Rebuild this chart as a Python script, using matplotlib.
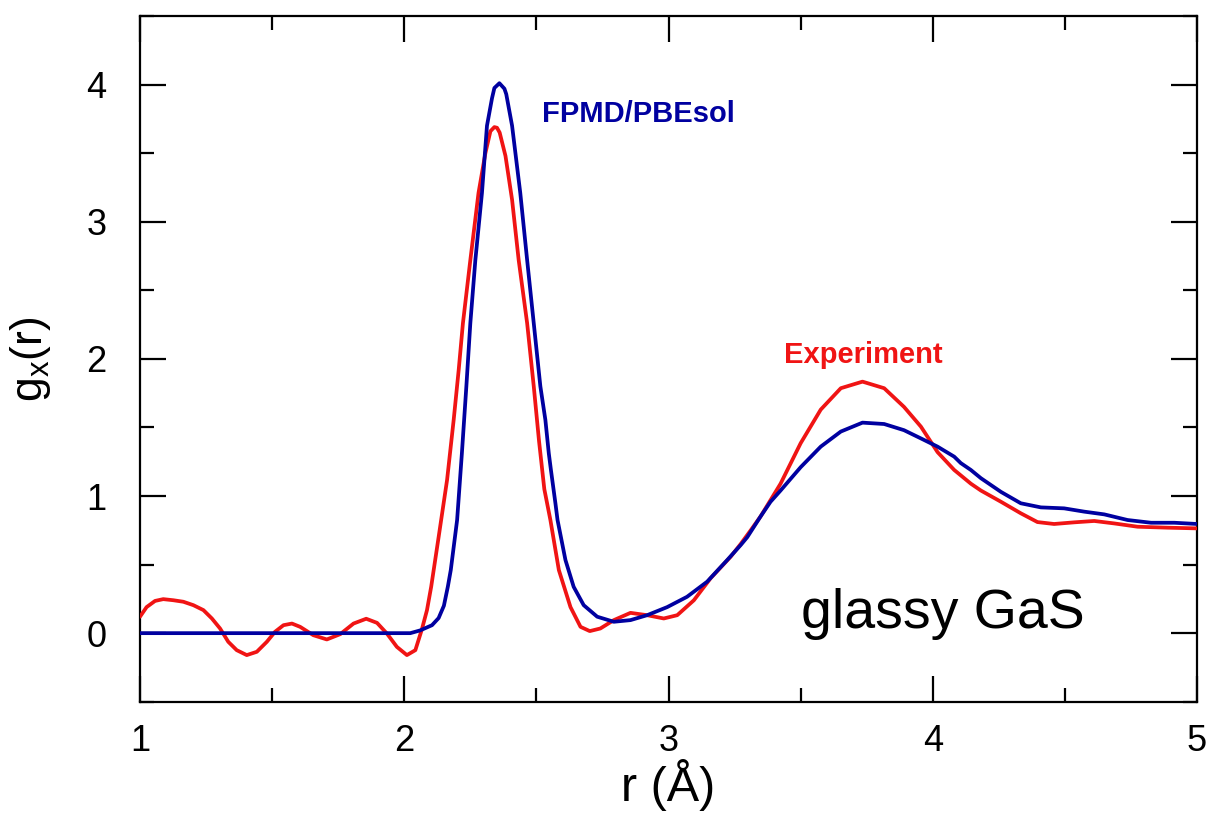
import matplotlib
matplotlib.use("Agg")
import matplotlib.pyplot as plt
from matplotlib.ticker import MultipleLocator

# experiment g_x(r)
r_exp = [1.0, 1.025, 1.057, 1.088, 1.126, 1.164, 1.202, 1.24, 1.272, 1.303,
         1.334, 1.366, 1.404, 1.442, 1.48, 1.511, 1.543, 1.575, 1.606, 1.656,
         1.707, 1.758, 1.808, 1.856, 1.897, 1.934, 1.972, 2.01, 2.042, 2.067,
         2.086, 2.102, 2.13, 2.162, 2.187, 2.206, 2.222, 2.25, 2.281, 2.307,
         2.326, 2.341, 2.351, 2.361, 2.383, 2.408, 2.433, 2.465, 2.49, 2.51, 2.53,
         2.553, 2.585, 2.629, 2.667, 2.702, 2.742, 2.793, 2.856, 2.919, 2.982,
         3.033, 3.096, 3.159, 3.235, 3.273, 3.311, 3.348, 3.386, 3.424, 3.5,
         3.576, 3.652, 3.734, 3.816, 3.891, 3.955, 4.018, 4.081, 4.144, 4.182,
         4.258, 4.333, 4.396, 4.459, 4.535, 4.611, 4.687, 4.775, 4.889, 5.0]
g_exp = [0.12, 0.19, 0.235, 0.248, 0.24, 0.229, 0.204, 0.168, 0.107, 0.034,
         -0.063, -0.124, -0.16, -0.136, -0.063, 0.01, 0.058, 0.07, 0.046, -0.015,
         -0.046, -0.007, 0.07, 0.105, 0.075, -0.002, -0.1, -0.16, -0.124, 0.03,
         0.168, 0.34, 0.70, 1.117, 1.555, 1.92, 2.26, 2.72, 3.21, 3.50,
         3.66, 3.69, 3.685, 3.65, 3.48, 3.16, 2.72, 2.26, 1.80, 1.40, 1.05,
         0.825, 0.46, 0.19, 0.046, 0.015, 0.034, 0.095, 0.148, 0.131, 0.107,
         0.131, 0.24, 0.40, 0.557, 0.65, 0.75, 0.85, 0.97, 1.09, 1.385,
         1.63, 1.786, 1.834, 1.786, 1.65, 1.506, 1.32, 1.19, 1.09, 1.04,
         0.958, 0.874, 0.81, 0.796, 0.808, 0.818, 0.80, 0.776, 0.769, 0.764]

# FPMD/PBEsol g_x(r)
r_fpmd = [1.0, 2.023, 2.06, 2.105, 2.13, 2.15, 2.165, 2.176, 2.2, 2.218,
          2.235, 2.25, 2.269, 2.294, 2.313, 2.332, 2.341, 2.36, 2.379, 2.386,
          2.408, 2.439,
          2.465, 2.49, 2.515, 2.534, 2.547, 2.555, 2.572, 2.58, 2.61, 2.641,
          2.679, 2.73, 2.793, 2.856, 2.919, 2.995, 3.07, 3.146, 3.222, 3.273,
          3.298, 3.348, 3.386, 3.424, 3.5, 3.576, 3.652, 3.734, 3.816, 3.891,
          3.955, 4.018, 4.081, 4.106, 4.144, 4.182, 4.258, 4.333, 4.409, 4.497,
          4.573, 4.649, 4.737, 4.826, 4.914, 5.0]
g_fpmd = [0.0, 0.0, 0.02, 0.058, 0.11, 0.20, 0.34, 0.46, 0.825, 1.31,
          1.80, 2.26, 2.72, 3.21, 3.70, 3.90, 3.975, 4.01, 3.97, 3.93,
          3.70, 3.21,
          2.72, 2.26, 1.80, 1.555, 1.31, 1.19, 0.947, 0.825, 0.533, 0.338,
          0.204, 0.12, 0.083, 0.095, 0.131, 0.19, 0.265, 0.375, 0.533, 0.642,
          0.70, 0.85, 0.958, 1.04, 1.21, 1.36, 1.47, 1.535, 1.525, 1.48,
          1.42, 1.36, 1.287, 1.24, 1.19, 1.13, 1.03, 0.947, 0.917, 0.91,
          0.886, 0.866, 0.825, 0.805, 0.805, 0.796]

red = "#f01414"
blue = "#0000a0"

plt.rcParams["font.family"] = ["Liberation Sans", "DejaVu Sans"]
plt.rcParams["mathtext.default"] = "regular"

fig = plt.figure(figsize=(12.1, 8.17), dpi=100)
ax = fig.add_axes([0.1157, 0.1411, 0.8736, 0.8393])

ax.plot(r_exp, g_exp, color=red, lw=2.7, zorder=3,
        solid_joinstyle="round", solid_capstyle="round")
ax.plot(r_fpmd, g_fpmd, color=blue, lw=2.7, zorder=4,
        solid_joinstyle="round", solid_capstyle="round")

ax.set_xlim(1, 5)
ax.set_ylim(-0.5, 4.5)
ax.xaxis.set_major_locator(MultipleLocator(1))
ax.xaxis.set_minor_locator(MultipleLocator(0.5))
ax.yaxis.set_major_locator(MultipleLocator(1))
ax.yaxis.set_minor_locator(MultipleLocator(0.5))

for s in ax.spines.values():
    s.set_linewidth(1.6)
ax.tick_params(which="both", direction="in", top=True, right=True, width=1.6)
ax.tick_params(which="major", length=19, labelsize=26)
ax.tick_params(which="minor", length=10)
ax.tick_params(axis="x", which="major", pad=16)
ax.tick_params(axis="y", which="major", pad=24)

ax.set_xlabel("r (Å)", fontsize=35, labelpad=0)
ax.set_ylabel("g$_x$(r)", fontsize=32, labelpad=24)

ax.text(2.523, 3.73, "FPMD/PBEsol", color=blue, fontsize=21,
        fontweight="bold", ha="left", va="baseline")
ax.text(3.436, 1.97, "Experiment", color=red, fontsize=21,
        fontweight="bold", ha="left", va="baseline")
ax.text(3.5, 0.036, "glassy GaS", color="black", fontsize=40,
        ha="left", va="baseline")

fig.savefig("out.png", dpi=100)
